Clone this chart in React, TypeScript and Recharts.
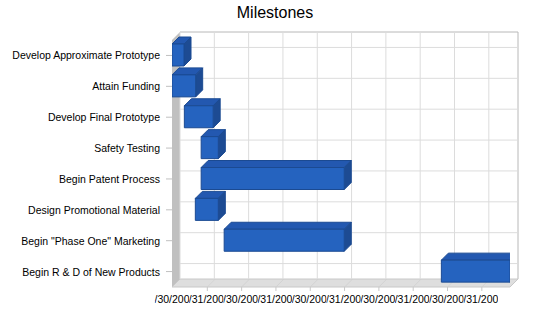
import React from 'react';
import { BarChart, Bar, XAxis, YAxis, CartesianGrid } from 'recharts';

// milestones, in months from the first tick
const categories = [
  'Develop Approximate Prototype',
  'Attain Funding',
  'Develop Final Prototype',
  'Safety Testing',
  'Begin Patent Process',
  'Design Promotional Material',
  'Begin "Phase One" Marketing',
  'Begin R & D of New Products',
];
const startMonths = [0, 0, 0.36, 0.85, 0.85, 0.68, 1.52, 7.85];
const endMonths = [0.35, 0.69, 1.2, 1.35, 5.02, 1.35, 5.02, 9.85];

const tickDates = [
  '4/30/2008', '5/31/2008', '6/30/2008', '7/31/2008', '9/30/2008',
  '1/31/2009', '4/30/2009', '5/31/2009', '6/30/2009', '7/31/2009',
];
const tickValues = [0, 1, 2, 3, 4, 5, 6, 7, 8, 9];
const X_MAX = 9.85;

const data = categories.map((name, i) => ({
  name,
  start: startMonths[i],
  span: endMonths[i] - startMonths[i],
}));

const FONT = '"Liberation Sans", Arial, sans-serif';
const DEPTH = 7; // bar depth
const WALL = 8; // wall depth

// plot frame (front plane) follows from the chart margins below
const W = 550;
const H = 318;
const M = { top: 40, right: 40, bottom: 1, left: 12 };
const Y_AXIS_W = 160;
const X_AXIS_H = 30;
const left = M.left + Y_AXIS_W;
const right = W - M.right;
const top = M.top;
const bottom = H - M.bottom - X_AXIS_H;

// back wall grid lines, same mapping as the axes but pushed back by the wall depth
const band = (bottom - top) / categories.length;
const frontX = tickValues.map((t) => left + (t / X_MAX) * (right - left));
const gridY = categories.map((_, i) => top + band * (i + 0.5) - WALL);
const gridX = frontX.map((x) => x + WALL);

const Box3D = (props: any) => {
  const { x, y, width, height } = props;
  if (!width || width <= 0) return null;
  const d = DEPTH;
  return (
    <g stroke="#1b4a92" strokeWidth={1} strokeLinejoin="round">
      <polygon
        points={`${x},${y} ${x + d},${y - d} ${x + width + d},${y - d} ${x + width},${y}`}
        fill="#2358b0"
      />
      <polygon
        points={`${x + width},${y} ${x + width + d},${y - d} ${x + width + d},${y + height - d} ${x + width},${y + height}`}
        fill="#1d4b93"
      />
      <rect x={x} y={y} width={width} height={height} fill="#2563bf" />
    </g>
  );
};

const DateTick = (props: any) => {
  const { x, y, payload } = props;
  const id = `xclip-${payload.value}`;
  return (
    <g>
      <clipPath id={id}>
        <rect x={x - 17.15} y={y} width={34.3} height={20} />
      </clipPath>
      <text
        x={x}
        y={y + 8}
        textAnchor="middle"
        fontSize={10.5}
        fontFamily={FONT}
        fill="#000"
        clipPath={`url(#${id})`}
      >
        {tickDates[payload.value]}
      </text>
    </g>
  );
};

const NameTick = (props: any) => {
  const { x, y, payload } = props;
  return (
    <text x={x - 4} y={y} dy={4} textAnchor="end" fontSize={10.5} fontFamily={FONT} fill="#000">
      {payload.value}
    </text>
  );
};

const Background = () => (
  <svg width={W} height={H} style={{ position: 'absolute', left: 0, top: 0 }}>
    <text x={275} y={18} textAnchor="middle" fontSize={16} fontFamily={FONT} fill="#000">
      Milestones
    </text>
    {/* back wall frame */}
    <line x1={left + WALL} y1={top - WALL} x2={right + WALL} y2={top - WALL} stroke="#b8b8b8" />
    <line x1={right + WALL} y1={top - WALL} x2={right + WALL} y2={bottom - WALL} stroke="#b8b8b8" />
    {/* left wall */}
    <polygon
      points={`${left},${top} ${left + WALL},${top - WALL} ${left + WALL},${bottom - WALL} ${left},${bottom}`}
      fill="#c0c0c0"
    />
    {/* floor */}
    <polygon
      points={`${left},${bottom} ${left + WALL},${bottom - WALL} ${right + WALL},${bottom - WALL} ${right},${bottom}`}
      fill="#dedede"
      stroke="#c8c8c8"
      strokeWidth={1}
    />
    {frontX.slice(1).map((x, i) => (
      <g key={i}>
        <line x1={x + 1} y1={bottom} x2={x + 1 + WALL} y2={bottom - WALL} stroke="#cfcfcf" strokeWidth={0.7} />
        <line x1={x + 1} y1={bottom} x2={x + 1} y2={bottom + 4} stroke="#c8c8c8" />
      </g>
    ))}
  </svg>
);

export default function App() {
  return (
    <div style={{ position: 'absolute', left: 0, top: 0, width: W, height: H, background: '#fff' }}>
      <Background />
      <div style={{ position: 'absolute', left: 0, top: 0 }}>
        <BarChart
          layout="vertical"
          width={W}
          height={H}
          data={data}
          margin={M}
          barSize={22}
        >
          <CartesianGrid
            x={left + WALL}
            y={top - WALL}
            width={right - left}
            height={bottom - top}
            stroke="#dcdcdc"
            horizontalPoints={gridY}
            verticalPoints={gridX}
          />
          <XAxis
            type="number"
            domain={[0, X_MAX]}
            ticks={tickValues}
            interval={0}
            height={X_AXIS_H}
            axisLine={false}
            tickLine={false}
            tick={<DateTick />}
            allowDataOverflow
          />
          <YAxis
            type="category"
            dataKey="name"
            width={Y_AXIS_W}
            interval={0}
            axisLine={false}
            tickLine={{ stroke: '#c0c0c0' }}
            tick={<NameTick />}
          />
          <Bar dataKey="start" stackId="a" fill="none" isAnimationActive={false} />
          <Bar dataKey="span" stackId="a" shape={<Box3D />} isAnimationActive={false} />
        </BarChart>
      </div>
    </div>
  );
}
